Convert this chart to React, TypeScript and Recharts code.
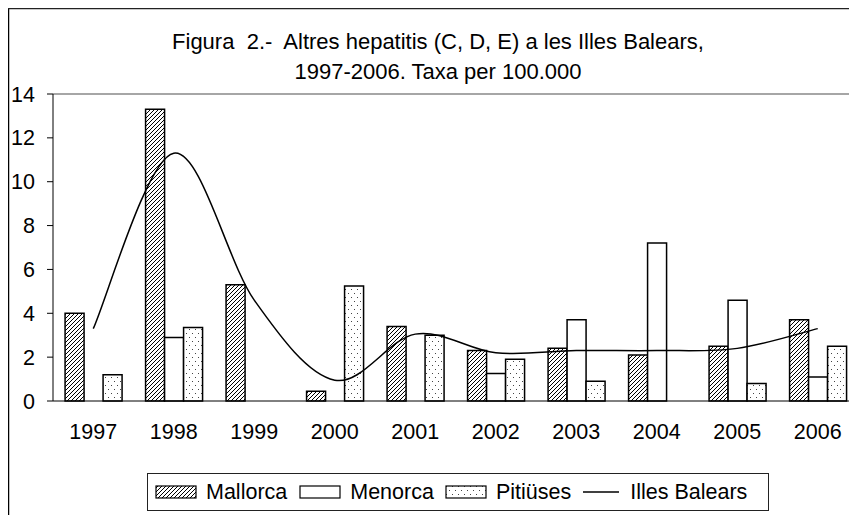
import React from 'react';
import { ComposedChart, Bar, Line, XAxis, YAxis, ReferenceLine, Legend } from 'recharts';

const years = ['1997', '1998', '1999', '2000', '2001', '2002', '2003', '2004', '2005', '2006'];
const mallorca = [4.0, 13.3, 5.3, 0.45, 3.4, 2.3, 2.4, 2.1, 2.5, 3.7];
const menorca = [0, 2.9, 0, 0, 0, 1.25, 3.7, 7.2, 4.6, 1.1];
const pitiuses = [1.2, 3.35, 0, 5.25, 3.0, 1.9, 0.9, 0, 0.8, 2.5];
const balears = [3.3, 11.3, 4.6, 0.95, 3.05, 2.2, 2.3, 2.3, 2.4, 3.3];
const yTicks = [0, 2, 4, 6, 8, 10, 12, 14];
const edgeTicks = [0, 1, 2, 3, 4, 5, 6, 7, 8, 9, 10];
const titleLines = ['Figura  2.-  Altres hepatitis (C, D, E) a les Illes Balears,', '1997-2006. Taxa per 100.000'];

const data = years.map((y, i) => ({
  year: y,
  Mallorca: mallorca[i],
  Menorca: menorca[i],
  'Pitiüses': pitiuses[i],
  'Illes Balears': balears[i],
}));

const FONT = '"Liberation Sans", Arial, sans-serif';
const FS = 21.5;

// Excel-like smoothed curve (Catmull-Rom via cubic Bezier)
function excelCurve(context: any) {
  let pts: number[][] = [];
  return {
    areaStart() {},
    areaEnd() {},
    lineStart() { pts = []; },
    point(x: number, y: number) { pts.push([+x, +y]); },
    lineEnd() {
      if (!pts.length) return;
      context.moveTo(pts[0][0], pts[0][1]);
      for (let i = 0; i < pts.length - 1; i++) {
        const p0 = pts[i - 1] || pts[i];
        const p1 = pts[i];
        const p2 = pts[i + 1];
        const p3 = pts[i + 2] || p2;
        context.bezierCurveTo(
          p1[0] + (p2[0] - p0[0]) / 6, p1[1] + (p2[1] - p0[1]) / 6,
          p2[0] - (p3[0] - p1[0]) / 6, p2[1] - (p3[1] - p1[1]) / 6,
          p2[0], p2[1]
        );
      }
    },
  };
}

const swatch = (kind: string) => {
  if (kind === 'line') {
    return (
      <svg width={36} height={14} style={{ display: 'block' }}>
        <line x1={0} y1={7} x2={36} y2={7} stroke="#000" strokeWidth={1.5} />
      </svg>
    );
  }
  const fill = kind === 'hatch' ? 'url(#hatch)' : kind === 'dots' ? 'url(#dots)' : '#fff';
  return (
    <svg width={42} height={14} style={{ display: 'block' }}>
      <rect x={1} y={1} width={40} height={12} fill={fill} stroke="#000" strokeWidth={1.2} />
    </svg>
  );
};

const legendItems = [
  { name: 'Mallorca', kind: 'hatch' },
  { name: 'Menorca', kind: 'plain' },
  { name: 'Pitiüses', kind: 'dots' },
  { name: 'Illes Balears', kind: 'line' },
];

const renderLegend = () => (
  <div
    style={{
      display: 'flex',
      alignItems: 'center',
      border: '1px solid #222',
      height: 36,
      width: 613,
      boxSizing: 'content-box',
      paddingLeft: 7,
      fontFamily: FONT,
      fontSize: FS,
      color: '#000',
      background: '#fff',
    }}
  >
    {legendItems.map((it) => (
      <div key={it.name} style={{ display: 'flex', alignItems: 'center', marginRight: it.kind === 'plain' ? 11 : 12 }}>
        {swatch(it.kind)}
        <span style={{ marginLeft: it.kind === 'line' ? 11 : 9, whiteSpace: 'nowrap' }}>{it.name}</span>
      </div>
    ))}
  </div>
);

export default function App() {
  return (
    <div style={{ position: 'relative', width: 849, height: 507, overflow: 'hidden', background: '#fff' }}>
      <svg width={0} height={0} style={{ position: 'absolute' }}>
        <defs>
          <pattern id="hatch" patternUnits="userSpaceOnUse" width={4} height={4}>
            <rect width={4} height={4} fill="#fff" />
            <path d="M-1,1 l2,-2 M0,4 l4,-4 M3,5 l2,-2" stroke="#000" strokeWidth={1} />
          </pattern>
          <pattern id="dots" patternUnits="userSpaceOnUse" width={6} height={8}>
            <rect width={6} height={8} fill="#fff" />
            <rect x={1} y={1} width={1} height={1} fill="#444" />
            <rect x={4} y={5} width={1} height={1} fill="#444" />
          </pattern>
        </defs>
      </svg>
      <ComposedChart
        width={850}
        height={507}
        data={data}
        margin={{ top: 86, right: 0, bottom: 46, left: 0 }}
        barCategoryGap="15%"
        barGap={0}
      >
        <XAxis
          xAxisId="edge"
          type="number"
          domain={[0, 10]}
          ticks={edgeTicks}
          allowDataOverflow
          tick={false}
          axisLine={false}
          tickLine={{ stroke: '#000' }}
          tickSize={6}
          height={0}
        />
        <XAxis
          xAxisId="cat"
          dataKey="year"
          height={30}
          tickLine={false}
          tickSize={0}
          tickMargin={23}
          axisLine={{ stroke: '#000' }}
          tick={{ fill: '#000', fontSize: FS, fontFamily: FONT }}
        />
        <YAxis
          width={45}
          domain={[0, 14]}
          ticks={yTicks}
          tickSize={6}
          tickMargin={12}
          axisLine={{ stroke: '#000' }}
          tickLine={{ stroke: '#000' }}
          tick={{ fill: '#000', fontSize: FS, fontFamily: FONT }}
        />
        <ReferenceLine xAxisId="cat" y={14} stroke="#888" strokeWidth={1.5} />
        <Bar xAxisId="cat" dataKey="Mallorca" fill="url(#hatch)" stroke="#000" strokeWidth={1.5} isAnimationActive={false} />
        <Bar xAxisId="cat" dataKey="Menorca" fill="#fff" stroke="#000" strokeWidth={1.5} isAnimationActive={false} />
        <Bar xAxisId="cat" dataKey="Pitiüses" fill="url(#dots)" stroke="#000" strokeWidth={1.5} isAnimationActive={false} />
        <Line
          xAxisId="cat"
          dataKey="Illes Balears"
          type={excelCurve as any}
          stroke="#000"
          strokeWidth={1.5}
          dot={false}
          activeDot={false}
          isAnimationActive={false}
        />
        <Legend
          content={renderLegend}
          wrapperStyle={{ position: 'absolute', left: 139, top: 465, width: 'auto' }}
        />
      </ComposedChart>
      <svg width={849} height={507} style={{ position: 'absolute', left: 0, top: 0, pointerEvents: 'none' }}>
        <line x1={0.5} y1={0} x2={0.5} y2={507} stroke="#000" strokeWidth={1.5} />
        <line x1={0} y1={0} x2={849} y2={0} stroke="#222" strokeWidth={2.5} />
        <text x={430} y={40.5} textAnchor="middle" fontFamily={FONT} fontSize={22} fill="#000" style={{ whiteSpace: 'pre' }}>{titleLines[0]}</text>
        <text x={430} y={70.5} textAnchor="middle" fontFamily={FONT} fontSize={22} fill="#000" style={{ whiteSpace: 'pre' }}>{titleLines[1]}</text>
      </svg>
    </div>
  );
}
